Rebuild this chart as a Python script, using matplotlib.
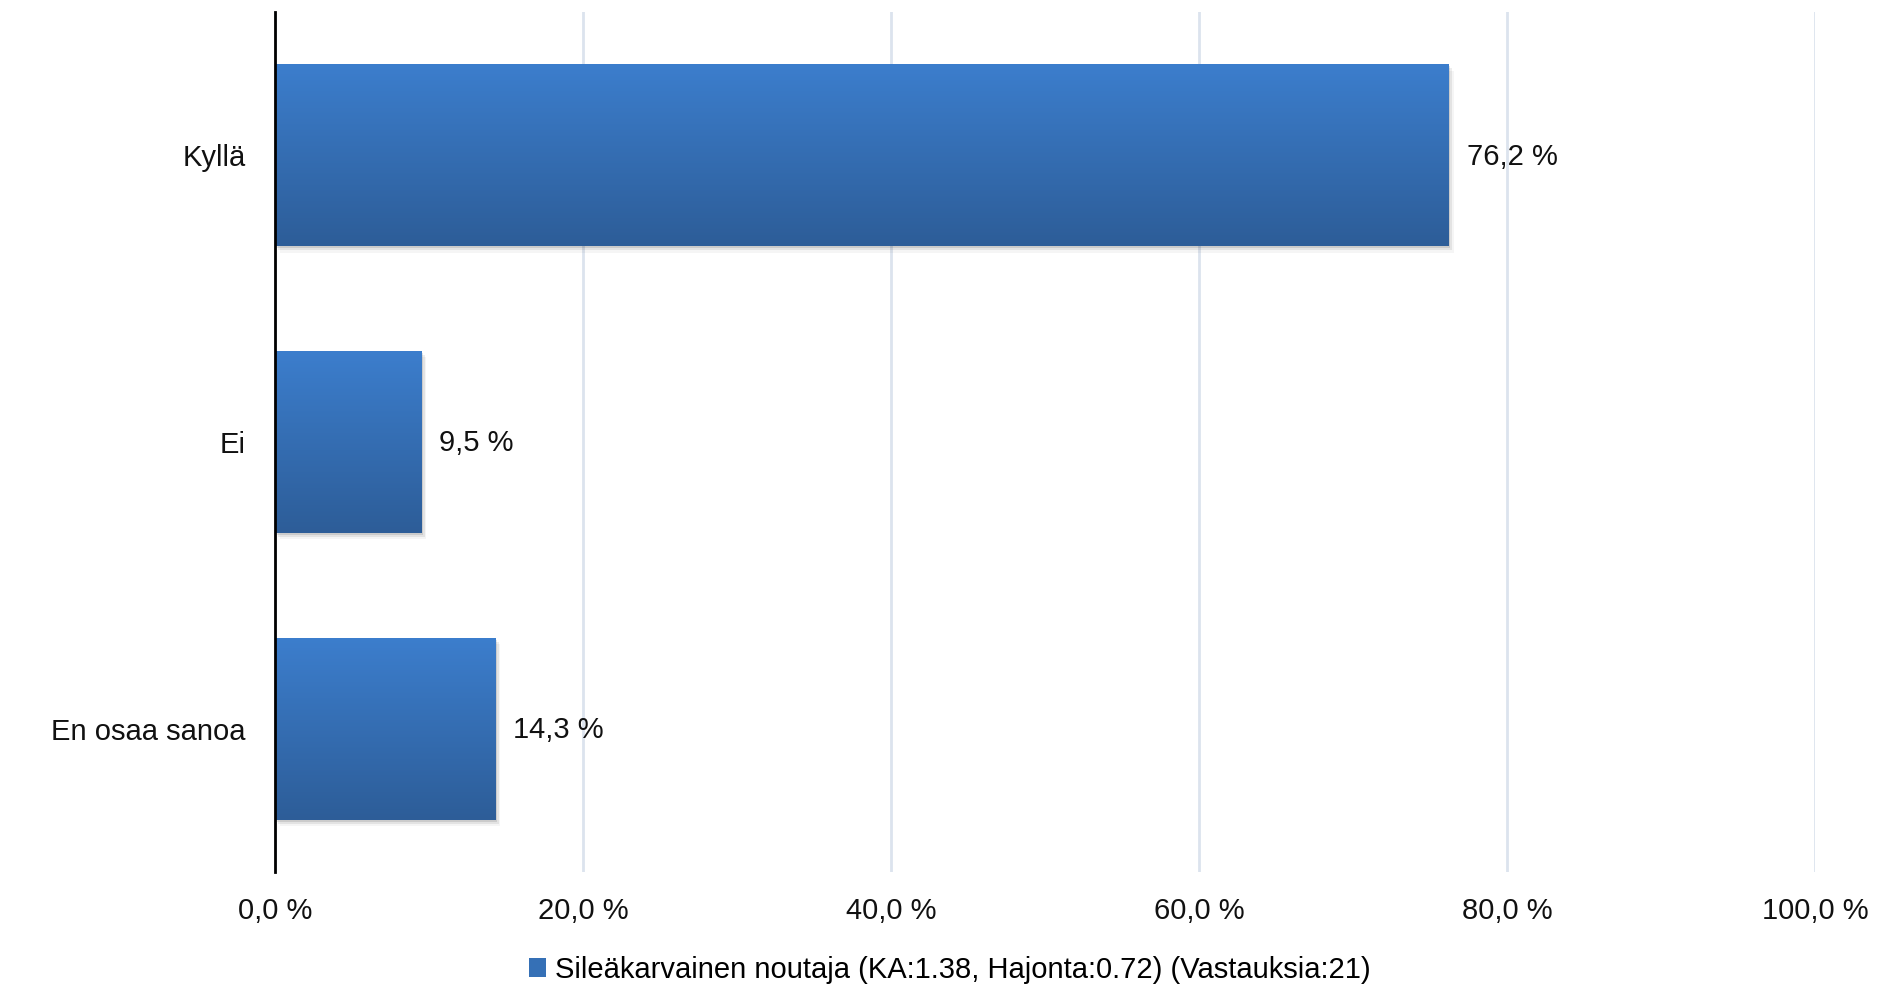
import numpy as np
import matplotlib
matplotlib.use('Agg')
import matplotlib.pyplot as plt
import matplotlib.patches as mpatches
import matplotlib.transforms as mtransforms
from matplotlib.colors import LinearSegmentedColormap

# Data
categories = ['Kyllä', 'Ei', 'En osaa sanoa']
values = [76.2, 9.5, 14.3]
value_labels = ['76,2 %', '9,5 %', '14,3 %']
xticks = [0, 20, 40, 60, 80, 100]
xtick_labels = ['0,0 %', '20,0 %', '40,0 %', '60,0 %', '80,0 %', '100,0 %']
legend_label = 'Sileäkarvainen noutaja (KA:1.38, Hajonta:0.72) (Vastauksia:21)'

plt.rcParams['font.family'] = ['Liberation Sans', 'DejaVu Sans']
fs = 21

fig = plt.figure(figsize=(18.99, 9.89), dpi=100)
ax = fig.add_axes([0.1448, 0.1183, 0.811, 0.8696])

grad = LinearSegmentedColormap.from_list('bargrad', ['#3C7ECD', '#2D5D98'])

ypos = np.arange(len(categories))
bars = ax.barh(ypos, values, height=0.635, color='#3570B6', zorder=3)

# gradient fill + soft shadow for each bar
for bar in bars:
    x0, y0 = bar.get_x(), bar.get_y()
    w, h = bar.get_width(), bar.get_height()
    for i, a in enumerate([0.10, 0.07, 0.04]):
        off = mtransforms.offset_copy(ax.transData, fig=fig, x=(i + 1) * 1.2, y=-(i + 1) * 1.5, units='points')
        sh = mpatches.Rectangle((x0, y0), w, h, transform=off, facecolor='black', alpha=a, edgecolor='none', zorder=2)
        ax.add_patch(sh)
    img = ax.imshow(np.linspace(0, 1, 256).reshape(-1, 1), cmap=grad, aspect='auto',
                    extent=[x0, x0 + w, y0 + h, y0], origin='upper', zorder=4)
    img.set_clip_path(bar)

for y, v, lab in zip(ypos, values, value_labels):
    ax.annotate(lab, xy=(v, y), xytext=(13, -1), textcoords='offset points',
                va='center', ha='left', fontsize=fs, color='#111111', zorder=5)

ax.set_xlim(0, 100)
ax.set_ylim(len(categories) - 0.5, -0.5)
ax.set_yticks(ypos)
ax.set_yticklabels(categories, fontsize=fs)
ax.set_xticks(xticks)
ax.set_xticklabels(xtick_labels, fontsize=fs)
ax.tick_params(axis='both', length=0, colors='#111111')
ax.tick_params(axis='y', pad=21)
ax.tick_params(axis='x', pad=18)

ax.grid(axis='x', color='#DCE3EE', linewidth=2, zorder=0)
ax.set_axisbelow(True)
for s in ['top', 'right', 'bottom']:
    ax.spines[s].set_visible(False)
ax.spines['left'].set_linewidth(2)
ax.spines['left'].set_color('black')
ax.spines['left'].set_zorder(6)

handle = mpatches.Patch(facecolor='#3570B6', edgecolor='none')
fig.legend([handle], [legend_label], loc='center', bbox_to_anchor=(0.5, 1 - 970 / 989),
           frameon=False, fontsize=fs, handlelength=0.6, handleheight=0.6, handletextpad=0.3)

fig.savefig('out.png', dpi=100)
